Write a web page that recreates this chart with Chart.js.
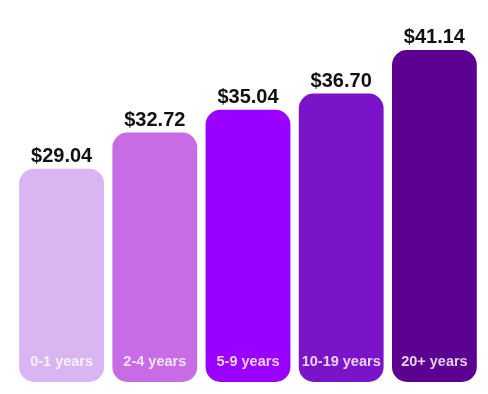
<!DOCTYPE html>
<html lang="en">
<head>
    <meta charset="UTF-8">
    <title>Pay by years of experience</title>
    <script src="https://cdn.jsdelivr.net/npm/chart.js"></script>
    <style>
        html, body {
            margin: 0;
            padding: 0;
            background: #ffffff;
        }
        #wrap {
            width: 488px;
            height: 394px;
        }
    </style>
</head>
<body>
    <div id="wrap"><canvas id="payChart" width="488" height="394"></canvas></div>

    <script>
        // data
        const categories = ['0-1 years', '2-4 years', '5-9 years', '10-19 years', '20+ years'];
        const hourlyPay = [29.04, 32.72, 35.04, 36.70, 41.14];
        const barColors = ['#d9b5f2', '#c76ce5', '#9a00ff', '#7b14c9', '#5b0091'];
        const axisMin = 7.3;
        const axisMax = 44.2;

        // writes the dollar value above each bar and the category inside it
        const barLabels = {
            id: 'barLabels',
            afterDatasetsDraw(chart) {
                const ctx = chart.ctx;
                const meta = chart.getDatasetMeta(0);
                ctx.save();
                ctx.textAlign = 'center';
                ctx.textBaseline = 'alphabetic';
                meta.data.forEach((bar, i) => {
                    ctx.fillStyle = '#111111';
                    ctx.font = 'bold 20px "Liberation Sans", Arial, sans-serif';
                    ctx.fillText('$' + hourlyPay[i].toFixed(2), bar.x, bar.y - 7);

                    ctx.fillStyle = 'rgba(255, 255, 255, 0.82)';
                    ctx.font = 'bold 14.5px "Liberation Sans", Arial, sans-serif';
                    ctx.fillText(categories[i], bar.x, bar.base - 16);
                });
                ctx.restore();
            }
        };

        const ctx = document.getElementById('payChart').getContext('2d');
        new Chart(ctx, {
            type: 'bar',
            data: {
                labels: categories,
                datasets: [{
                    data: hourlyPay,
                    base: axisMin,
                    backgroundColor: barColors,
                    borderWidth: 0,
                    borderRadius: 15,
                    borderSkipped: false,
                    barPercentage: 0.91,
                    categoryPercentage: 1.0,
                    clip: false
                }]
            },
            options: {
                responsive: false,
                animation: false,
                layout: {
                    padding: { left: 15, right: 7, top: 20, bottom: 12 }
                },
                plugins: {
                    legend: { display: false },
                    tooltip: { enabled: false }
                },
                scales: {
                    x: { display: false },
                    y: { display: false, min: axisMin, max: axisMax }
                }
            },
            plugins: [barLabels]
        });
    </script>
</body>
</html>
